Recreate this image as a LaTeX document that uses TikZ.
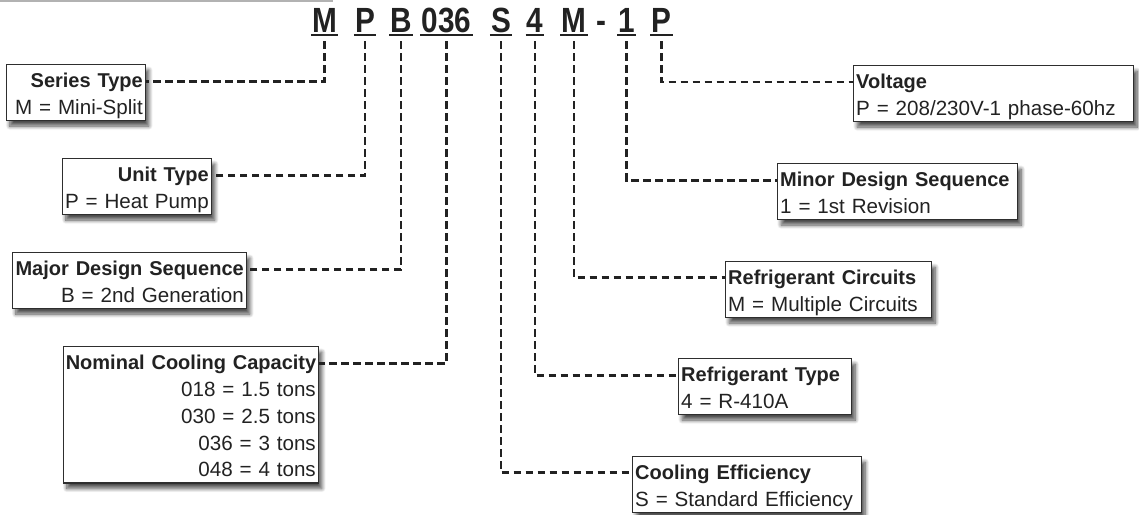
\documentclass[tikz,border=0pt]{standalone}
\usepackage{fontspec}
\setmainfont{Liberation Sans}
\usetikzlibrary{shadows.blur}
\definecolor{txt}{HTML}{222222}
\definecolor{boxline}{HTML}{2E2E2E}
\newcommand{\ttl}[1]{\mbox{\fontsize{20}{26.8}\selectfont\bfseries #1}}
\newcommand{\lin}[1]{\mbox{#1}}
\begin{document}
\begin{tikzpicture}[x=1pt,y=-1pt,
  box/.style={draw=boxline, line width=1.4pt, fill=white, inner xsep=2.5pt, inner ysep=3pt,
    text height=20pt, font=\fontsize{20.6}{26.8}\selectfont, text=txt,
    blur shadow={shadow xshift=3.5pt, shadow yshift=-5.5pt, shadow blur radius=4pt, shadow blur steps=10, shadow opacity=70}},
  twoline/.style={text depth=29.8pt},
  lbox/.style={box, align=right, anchor=north east},
  rbox/.style={box, align=left, anchor=north west},
  code/.style={font=\fontsize{35}{35}\selectfont\bfseries, inner xsep=1pt, inner ysep=2.5pt,
    text depth=0pt, anchor=base, text=txt},
  conn/.style={draw=txt, line width=2.2pt, dash pattern=on 7.5pt off 4.5pt},
  uline/.style={draw=txt, line width=2pt}
]
\useasboundingbox (0,0) rectangle (1139,514);
\draw[black!30, line width=1.5pt] (0,1) -- (333,1);

% code letters
\node[code] (cM)  at (324.5,32) {\scalebox{0.85}[1]{M}};
\node[code] (cP)  at (365,32) {\scalebox{0.85}[1]{P}};
\node[code] (cB)  at (401,32) {\scalebox{0.85}[1]{B}};
\node[code] (cN)  at (446.5,32) {\scalebox{0.85}[1]{036}};
\node[code] (cS)  at (501,32) {\scalebox{0.85}[1]{S}};
\node[code] (c4)  at (535,32) {\scalebox{0.85}[1]{4}};
\node[code] (cM2) at (574,32) {\scalebox{0.85}[1]{M}};
\node[code] (cH)  at (601,32) {\scalebox{0.85}[1]{-}};
\node[code] (c1)  at (626.5,32) {\scalebox{0.85}[1]{1}};
\node[code] (cP2) at (661.5,32) {\scalebox{0.85}[1]{P}};
\foreach \n in {cM,cP,cB,cN,cS,c4,cM2,c1,cP2}
  \draw[uline] (\n.south west) -- (\n.south east);

% left boxes
\node[lbox, twoline, text width=134pt] (series) at (146,64)
  {\ttl{Series Type}\\\lin{M = Mini-Split}};
\node[lbox, twoline, text width=144pt] (unit) at (212,158)
  {\ttl{Unit Type}\\\lin{P = Heat Pump}};
\node[lbox, twoline, text width=229pt] (major) at (247,252)
  {\ttl{Major Design Sequence}\\\lin{B = 2nd Generation}};
\node[lbox, text depth=110.2pt, text width=250pt] (nominal) at (319,346)
  {\ttl{Nominal Cooling Capacity}\\\lin{018 = 1.5 tons}\\\lin{030 = 2.5 tons}\\\lin{036 = 3 tons}\\\lin{048 = 4 tons}};

% right boxes
\node[rbox, twoline, text width=275pt] (volt) at (853,65)
  {\ttl{Voltage}\\\lin{P = 208/230V-1 phase-60hz}};
\node[rbox, twoline, text width=235pt] (minor) at (777,163)
  {\ttl{Minor Design Sequence}\\\lin{1 = 1st Revision}};
\node[rbox, twoline, text width=201pt] (circ) at (725,261)
  {\ttl{Refrigerant Circuits}\\\lin{M = Multiple Circuits}};
\node[rbox, twoline, text width=168pt] (rtype) at (678,358)
  {\ttl{Refrigerant Type}\\\lin{4 = R-410A}};
\node[rbox, twoline, text width=224pt] (eff) at (632,456)
  {\ttl{Cooling Efficiency}\\\lin{S = Standard Efficiency}};

% connectors
\draw[conn] ([yshift=-6.5pt]cM.south)  |- ([yshift=-17.5pt]series.north east);
\draw[conn] ([yshift=-6.5pt]cP.south)  |- ([yshift=-17.5pt]unit.north east);
\draw[conn] ([yshift=-6.5pt]cB.south)  |- ([yshift=-17.5pt]major.north east);
\draw[conn] ([yshift=-6.5pt]cN.south)  |- ([yshift=-17.5pt]nominal.north east);
\draw[conn] ([yshift=-6.5pt]cS.south)  |- ([yshift=-16.5pt]eff.north west);
\draw[conn] ([yshift=-6.5pt]c4.south)  |- ([yshift=-17.5pt]rtype.north west);
\draw[conn] ([yshift=-6.5pt]cM2.south) |- ([yshift=-16.5pt]circ.north west);
\draw[conn] ([yshift=-6.5pt]c1.south)  |- ([yshift=-17.5pt]minor.north west);
\draw[conn] ([yshift=-6.5pt]cP2.south) |- ([yshift=-17pt]volt.north west);
\end{tikzpicture}
\end{document}
